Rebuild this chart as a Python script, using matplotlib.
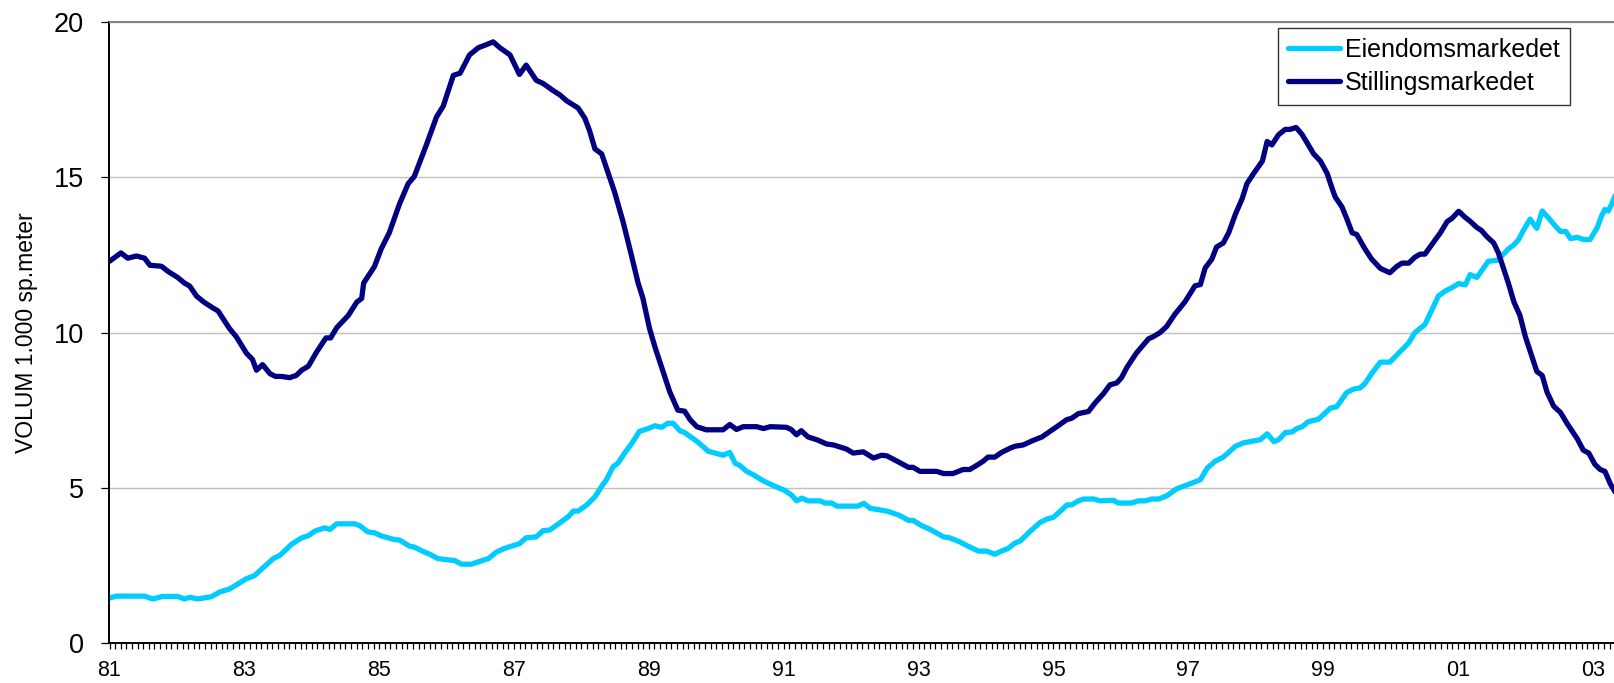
import numpy as np
import matplotlib
matplotlib.use("Agg")
import matplotlib.pyplot as plt
from matplotlib.ticker import FixedLocator, NullFormatter

plt.rcParams['font.family'] = ['Liberation Sans', 'DejaVu Sans']

# Stillingsmarkedet (decimal year, volum 1.000 sp.meter)
stilling_t = [
    1981.00, 1981.17, 1981.27, 1981.40, 1981.52, 1981.60, 1981.77, 1981.87, 1982.01, 1982.11,
    1982.19, 1982.29, 1982.39, 1982.53, 1982.61, 1982.78, 1982.88, 1983.03, 1983.12, 1983.18,
    1983.27, 1983.38, 1983.46, 1983.55, 1983.67, 1983.77, 1983.85, 1983.95, 1984.07, 1984.21,
    1984.28, 1984.37, 1984.47, 1984.54, 1984.67, 1984.74, 1984.77, 1984.93, 1985.03, 1985.15,
    1985.30, 1985.43, 1985.52, 1985.70, 1985.85, 1985.95, 1986.10, 1986.20, 1986.34, 1986.47,
    1986.59, 1986.69, 1986.79, 1986.94, 1987.08, 1987.18, 1987.33, 1987.43, 1987.58, 1987.68,
    1987.78, 1987.95, 1988.05, 1988.12, 1988.20, 1988.30, 1988.49, 1988.62, 1988.74, 1988.84,
    1988.91, 1989.01, 1989.09, 1989.19, 1989.31, 1989.43, 1989.53, 1989.61, 1989.71, 1989.85,
    1990.10, 1990.20, 1990.30, 1990.40, 1990.60, 1990.70, 1990.80, 1991.04, 1991.11, 1991.19,
    1991.26, 1991.36, 1991.49, 1991.64, 1991.74, 1991.93, 1992.03, 1992.18, 1992.33, 1992.45,
    1992.53, 1992.68, 1992.85, 1992.92, 1993.02, 1993.27, 1993.37, 1993.51, 1993.66, 1993.76,
    1993.89, 1993.96, 1994.03, 1994.13, 1994.23, 1994.36, 1994.43, 1994.55, 1994.68, 1994.83,
    1994.95, 1995.07, 1995.20, 1995.27, 1995.37, 1995.52, 1995.62, 1995.74, 1995.84, 1995.94,
    1996.01, 1996.09, 1996.23, 1996.41, 1996.48, 1996.58, 1996.68, 1996.80, 1996.95, 1997.10,
    1997.18, 1997.25, 1997.35, 1997.42, 1997.52, 1997.60, 1997.70, 1997.80, 1997.87, 1997.97,
    1998.10, 1998.17, 1998.24, 1998.34, 1998.44, 1998.51, 1998.60, 1998.69, 1998.78, 1998.86,
    1998.96, 1999.06, 1999.13, 1999.18, 1999.28, 1999.35, 1999.43, 1999.50, 1999.62, 1999.72,
    1999.85, 1999.99, 2000.09, 2000.17, 2000.27, 2000.36, 2000.44, 2000.51, 2000.61, 2000.74,
    2000.84, 2000.91, 2001.01, 2001.11, 2001.18, 2001.28, 2001.35, 2001.43, 2001.53, 2001.60,
    2001.68, 2001.75, 2001.83, 2001.92, 2002.00, 2002.10, 2002.17, 2002.25, 2002.32, 2002.42,
    2002.52, 2002.62, 2002.77, 2002.86, 2002.94, 2003.03, 2003.11, 2003.18, 2003.26, 2003.33,
]
stilling_v = [
    12.30, 12.57, 12.40, 12.47, 12.40, 12.17, 12.14, 11.97, 11.78, 11.60,
    11.50, 11.18, 11.00, 10.80, 10.70, 10.13, 9.87, 9.34, 9.14, 8.79,
    8.97, 8.68, 8.59, 8.59, 8.55, 8.62, 8.79, 8.92, 9.37, 9.83,
    9.83, 10.16, 10.39, 10.55, 10.99, 11.10, 11.60, 12.13, 12.70, 13.22,
    14.14, 14.80, 15.03, 16.05, 16.95, 17.30, 18.29, 18.36, 18.95, 19.18,
    19.28, 19.37, 19.18, 18.95, 18.32, 18.62, 18.13, 18.03, 17.80, 17.66,
    17.47, 17.24, 16.91, 16.51, 15.92, 15.76, 14.54, 13.55, 12.50, 11.60,
    11.12, 10.13, 9.54, 8.88, 8.09, 7.50, 7.47, 7.20, 6.97, 6.87,
    6.87, 7.04, 6.88, 6.97, 6.97, 6.91, 6.97, 6.95, 6.88, 6.71,
    6.84, 6.64, 6.55, 6.41, 6.38, 6.25, 6.12, 6.16, 5.96, 6.05,
    6.03, 5.86, 5.66, 5.66, 5.53, 5.53, 5.46, 5.46, 5.59, 5.59,
    5.76, 5.86, 5.99, 5.99, 6.14, 6.28, 6.34, 6.38, 6.51, 6.64,
    6.82, 7.00, 7.20, 7.24, 7.39, 7.46, 7.74, 8.03, 8.32, 8.38,
    8.55, 8.88, 9.34, 9.80, 9.87, 10.00, 10.20, 10.59, 10.99, 11.51,
    11.55, 12.08, 12.37, 12.76, 12.89, 13.22, 13.82, 14.32, 14.80, 15.13,
    15.53, 16.16, 16.05, 16.38, 16.55, 16.55, 16.61, 16.38, 16.05, 15.76,
    15.53, 15.13, 14.67, 14.37, 14.05, 13.68, 13.22, 13.16, 12.70, 12.37,
    12.07, 11.93, 12.13, 12.24, 12.24, 12.43, 12.53, 12.53, 12.83, 13.22,
    13.58, 13.68, 13.91, 13.71, 13.59, 13.39, 13.29, 13.09, 12.89, 12.57,
    12.04, 11.58, 10.99, 10.55, 9.87, 9.21, 8.75, 8.62, 8.09, 7.63,
    7.43, 7.07, 6.58, 6.21, 6.12, 5.76, 5.59, 5.53, 5.13, 4.87,
]

# Eiendomsmarkedet
eiendom_t = [
    1981.00, 1981.10, 1981.52, 1981.64, 1981.79, 1982.01, 1982.11, 1982.19, 1982.31, 1982.51,
    1982.63, 1982.78, 1982.88, 1983.03, 1983.15, 1983.28, 1983.43, 1983.53, 1983.70, 1983.85,
    1983.95, 1984.05, 1984.19, 1984.27, 1984.37, 1984.64, 1984.72, 1984.83, 1984.93, 1985.03,
    1985.23, 1985.30, 1985.45, 1985.52, 1985.65, 1985.75, 1985.87, 1986.05, 1986.12, 1986.22,
    1986.37, 1986.49, 1986.62, 1986.74, 1986.86, 1987.08, 1987.18, 1987.33, 1987.43, 1987.53,
    1987.66, 1987.81, 1987.88, 1987.95, 1988.08, 1988.20, 1988.30, 1988.37, 1988.47, 1988.54,
    1988.64, 1988.74, 1988.86, 1988.99, 1989.09, 1989.19, 1989.28, 1989.36, 1989.46, 1989.53,
    1989.73, 1989.88, 1990.10, 1990.20, 1990.28, 1990.35, 1990.45, 1990.55, 1990.70, 1990.85,
    1991.02, 1991.12, 1991.19, 1991.27, 1991.36, 1991.54, 1991.61, 1991.71, 1991.79, 1992.10,
    1992.19, 1992.28, 1992.45, 1992.55, 1992.72, 1992.85, 1992.92, 1993.04, 1993.17, 1993.37,
    1993.46, 1993.61, 1993.76, 1993.89, 1994.01, 1994.13, 1994.23, 1994.33, 1994.43, 1994.51,
    1994.65, 1994.80, 1994.90, 1995.00, 1995.10, 1995.20, 1995.27, 1995.37, 1995.45, 1995.60,
    1995.69, 1995.89, 1995.96, 1996.16, 1996.26, 1996.36, 1996.46, 1996.56, 1996.68, 1996.83,
    1996.98, 1997.18, 1997.28, 1997.40, 1997.52, 1997.70, 1997.82, 1997.92, 1998.07, 1998.17,
    1998.27, 1998.34, 1998.44, 1998.54, 1998.61, 1998.69, 1998.78, 1998.93, 1999.01, 1999.11,
    1999.20, 1999.26, 1999.35, 1999.45, 1999.55, 1999.62, 1999.72, 1999.85, 1999.99, 2000.12,
    2000.27, 2000.36, 2000.51, 2000.61, 2000.71, 2000.81, 2000.91, 2001.01, 2001.11, 2001.18,
    2001.28, 2001.38, 2001.45, 2001.58, 2001.68, 2001.75, 2001.83, 2001.90, 2001.97, 2002.07,
    2002.17, 2002.25, 2002.35, 2002.45, 2002.52, 2002.60, 2002.67, 2002.77, 2002.86, 2002.96,
    2003.06, 2003.13, 2003.18, 2003.23, 2003.28, 2003.33,
]
eiendom_v = [
    1.45, 1.51, 1.51, 1.42, 1.50, 1.50, 1.42, 1.47, 1.42, 1.49,
    1.64, 1.74, 1.87, 2.07, 2.17, 2.43, 2.72, 2.83, 3.18, 3.39,
    3.46, 3.61, 3.71, 3.66, 3.84, 3.84, 3.77, 3.58, 3.55, 3.45,
    3.33, 3.32, 3.12, 3.09, 2.95, 2.86, 2.72, 2.67, 2.66, 2.54,
    2.54, 2.63, 2.72, 2.93, 3.05, 3.20, 3.39, 3.42, 3.62, 3.64,
    3.84, 4.08, 4.25, 4.25, 4.45, 4.71, 5.05, 5.26, 5.68, 5.79,
    6.12, 6.41, 6.82, 6.91, 7.00, 6.95, 7.08, 7.08, 6.84, 6.78,
    6.47, 6.18, 6.05, 6.14, 5.79, 5.72, 5.53, 5.42, 5.22, 5.07,
    4.91, 4.76, 4.58, 4.67, 4.58, 4.58, 4.51, 4.51, 4.41, 4.41,
    4.50, 4.34, 4.28, 4.24, 4.11, 3.95, 3.95, 3.79, 3.66, 3.42,
    3.39, 3.26, 3.09, 2.96, 2.96, 2.86, 2.96, 3.05, 3.22, 3.29,
    3.59, 3.88, 3.99, 4.05, 4.24, 4.45, 4.45, 4.58, 4.64, 4.64,
    4.58, 4.60, 4.51, 4.51, 4.58, 4.58, 4.64, 4.64, 4.74, 4.97,
    5.09, 5.26, 5.63, 5.86, 5.99, 6.34, 6.45, 6.49, 6.55, 6.74,
    6.49, 6.55, 6.78, 6.80, 6.91, 6.97, 7.13, 7.21, 7.37, 7.57,
    7.61, 7.79, 8.07, 8.18, 8.22, 8.36, 8.68, 9.05, 9.05, 9.34,
    9.67, 10.00, 10.26, 10.72, 11.18, 11.34, 11.45, 11.58, 11.54, 11.87,
    11.78, 12.08, 12.30, 12.33, 12.54, 12.70, 12.83, 13.00, 13.29, 13.66,
    13.36, 13.92, 13.68, 13.42, 13.26, 13.26, 13.03, 13.07, 13.00, 13.00,
    13.36, 13.76, 13.97, 13.92, 14.14, 14.41,
]

label_years = list(range(1981, 2004, 2))
label_text = [f"{y % 100:02d}" for y in label_years]
y_ticks = [0, 5, 10, 15, 20]

W, H = 1615, 683
fig = plt.figure(figsize=(W / 100, H / 100), dpi=100)
ax = fig.add_axes([109.5 / W, 1 - 643 / H, 1 - 109.5 / W, (643 - 22.3) / H])

ax.plot(eiendom_t, eiendom_v, color='#00CCFF', linewidth=3.8, label='Eiendomsmarkedet',
        solid_joinstyle='round', solid_capstyle='round')
ax.plot(stilling_t, stilling_v, color='#000080', linewidth=3.8, label='Stillingsmarkedet',
        solid_joinstyle='round', solid_capstyle='round')

ax.set_xlim(1981.0, 1981 + 1505 / 67.4)
ax.set_ylim(0, 20)

ax.xaxis.set_major_locator(FixedLocator(label_years))
ax.set_xticklabels(label_text)
ax.xaxis.set_minor_locator(FixedLocator(np.arange(1981, 2003.4, 1 / 12)))
ax.xaxis.set_minor_formatter(NullFormatter())
ax.tick_params(axis='x', which='both', direction='out', length=4.3, width=0.9,
               color='black', labelsize=15.5, pad=8)

ax.set_yticks(y_ticks)
ax.tick_params(axis='y', direction='out', length=5.5, width=0.9, color='black',
               labelsize=19.5, pad=13)

ax.grid(axis='y', color='#C0C0C0', linewidth=1.0)
ax.set_axisbelow(True)

for side in ['left', 'bottom']:
    ax.spines[side].set_color('black')
    ax.spines[side].set_linewidth(1.4)
ax.spines['top'].set_color('#808080')
ax.spines['top'].set_linewidth(1.4)
ax.spines['right'].set_visible(False)

ax.set_ylabel('VOLUM 1.000 sp.meter', fontsize=16.5)
ax.yaxis.set_label_coords(-(109.5 - 38) / (W - 109.5), 0.5)

leg = ax.legend(loc='upper right', bbox_to_anchor=(1570 / W, 1 - 28 / H),
                bbox_transform=fig.transFigure, fontsize=18, frameon=True,
                fancybox=False, edgecolor='black', handlelength=2.1,
                handletextpad=0.2, borderpad=0.4, labelspacing=0.35,
                borderaxespad=0)
leg.get_frame().set_linewidth(1.0)

fig.savefig('out.png', dpi=100)
